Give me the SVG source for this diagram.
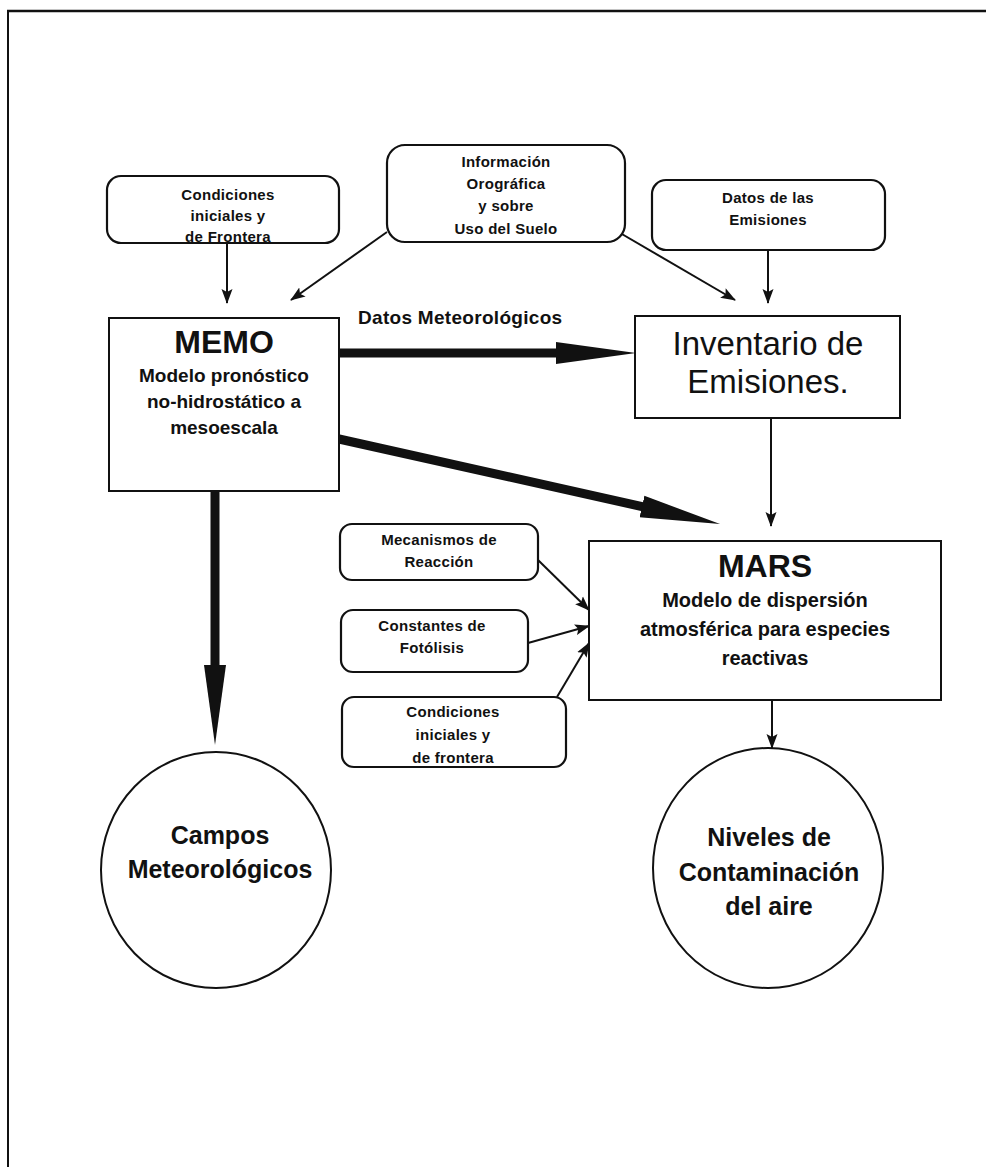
<svg xmlns="http://www.w3.org/2000/svg" width="986" height="1167" viewBox="0 0 986 1167">
<style>
.box{fill:#fff;stroke:#111;stroke-width:2}
.rbox{fill:#fff;stroke:#111;stroke-width:2.2}
.t{font-family:"Liberation Sans",Arial,Helvetica,sans-serif;font-weight:bold;fill:#111;text-anchor:middle}
.r{font-weight:normal}
.s{font-size:15px;letter-spacing:0.3px}
.m{font-size:19px}
.mm{font-size:20px}
.big{font-size:32px}
.inv{font-size:33px}
.c{font-size:25px}
.thin{stroke:#111;stroke-width:2;fill:none}
.thick{stroke:#111;stroke-width:9;fill:none;stroke-linecap:round}
</style>
<defs>
<marker id="ah" markerUnits="userSpaceOnUse" markerWidth="16" markerHeight="12" refX="14" refY="6" orient="auto">
<path d="M0,0.5 L15,6 L0,11.5 L3,6 z" fill="#111"/>
</marker>
<marker id="bh" markerUnits="userSpaceOnUse" markerWidth="82" markerHeight="26" refX="40" refY="13" orient="auto">
<path d="M0,2 L80,13 L0,24 z" fill="#111"/>
</marker>
</defs>
<g id="frame">
<line x1="7" y1="11" x2="986" y2="11" stroke="#111" stroke-width="2.5"/>
<line x1="8" y1="10" x2="8" y2="1167" stroke="#111" stroke-width="2"/>
</g>
<g id="connectors">
<line class="thin" x1="227" y1="243" x2="227" y2="303" marker-end="url(#ah)"/>
<line class="thin" x1="387" y1="232" x2="291" y2="300" marker-end="url(#ah)"/>
<line class="thin" x1="615" y1="230" x2="735" y2="300" marker-end="url(#ah)"/>
<line class="thin" x1="768" y1="250" x2="768" y2="303" marker-end="url(#ah)"/>
<line class="thick" x1="340" y1="353" x2="596" y2="353" marker-end="url(#bh)"/>
<line class="thick" x1="339" y1="439" x2="681" y2="515.3" marker-end="url(#bh)"/>
<line class="thick" x1="215" y1="492" x2="215" y2="705" marker-end="url(#bh)"/>
<line class="thin" x1="771" y1="418" x2="771" y2="526" marker-end="url(#ah)"/>
<line class="thin" x1="538" y1="560" x2="589" y2="610" marker-end="url(#ah)"/>
<line class="thin" x1="528" y1="643" x2="589" y2="626" marker-end="url(#ah)"/>
<line class="thin" x1="557" y1="697" x2="589" y2="643" marker-end="url(#ah)"/>
<line class="thin" x1="772" y1="700" x2="772" y2="748" marker-end="url(#ah)"/>
<text class="t m" x="358" y="324" style="text-anchor:start;letter-spacing:0.3px">Datos Meteorológicos</text>
</g>
<g id="cond1">
<rect class="rbox" x="107" y="176" width="232" height="67" rx="14"/>
<text class="t s" x="228" y="200">Condiciones</text>
<text class="t s" x="228" y="221">iniciales y</text>
<text class="t s" x="228" y="242">de Frontera</text>
</g>
<g id="info">
<rect class="rbox" x="387" y="145" width="238" height="97" rx="18"/>
<text class="t s" x="506" y="167">Información</text>
<text class="t s" x="506" y="189">Orográfica</text>
<text class="t s" x="506" y="211">y sobre</text>
<text class="t s" x="506" y="234">Uso del Suelo</text>
</g>
<g id="datos">
<rect class="rbox" x="652" y="180" width="233" height="70" rx="14"/>
<text class="t s" x="768" y="203">Datos de las</text>
<text class="t s" x="768" y="225">Emisiones</text>
</g>
<g id="memo">
<rect class="box" x="109" y="318" width="230" height="173"/>
<text class="t big" x="224" y="353">MEMO</text>
<text class="t m" x="224" y="382">Modelo pronóstico</text>
<text class="t m" x="224" y="408">no-hidrostático a</text>
<text class="t m" x="224" y="434">mesoescala</text>
</g>
<g id="inventario">
<rect class="box" x="635" y="316" width="265" height="102"/>
<text class="t r inv" x="768" y="355">Inventario de</text>
<text class="t r inv" x="768" y="393">Emisiones.</text>
</g>
<g id="mars">
<rect class="box" x="589" y="541" width="352" height="159"/>
<text class="t big" x="765" y="577">MARS</text>
<text class="t mm" x="765" y="607">Modelo de dispersión</text>
<text class="t mm" x="765" y="636">atmosférica para especies</text>
<text class="t mm" x="765" y="665">reactivas</text>
</g>
<g id="mecanismos">
<rect class="rbox" x="340" y="524" width="198" height="56" rx="12"/>
<text class="t s" x="439" y="545">Mecanismos de</text>
<text class="t s" x="439" y="567">Reacción</text>
</g>
<g id="constantes">
<rect class="rbox" x="341" y="610" width="187" height="62" rx="12"/>
<text class="t s" x="432" y="631">Constantes de</text>
<text class="t s" x="432" y="653">Fotólisis</text>
</g>
<g id="cond2">
<rect class="rbox" x="342" y="697" width="224" height="70" rx="12"/>
<text class="t s" x="453" y="717">Condiciones</text>
<text class="t s" x="453" y="740">iniciales y</text>
<text class="t s" x="453" y="763">de frontera</text>
</g>
<g id="campos">
<ellipse class="box" cx="216" cy="870" rx="115" ry="118"/>
<text class="t c" x="220" y="844">Campos</text>
<text class="t c" x="220" y="878">Meteorológicos</text>
</g>
<g id="niveles">
<ellipse class="box" cx="768" cy="868" rx="115" ry="120"/>
<text class="t c" x="769" y="846">Niveles de</text>
<text class="t c" x="769" y="881">Contaminación</text>
<text class="t c" x="769" y="915">del aire</text>
</g>
</svg>
